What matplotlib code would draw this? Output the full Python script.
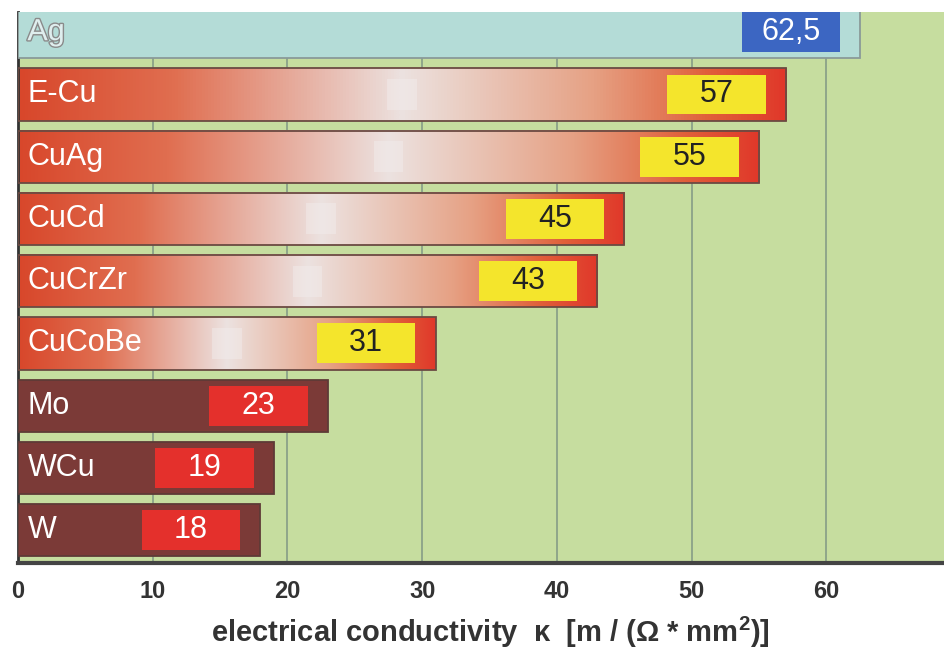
import numpy as np
import matplotlib.pyplot as plt
from matplotlib.colors import LinearSegmentedColormap
from matplotlib.patches import Rectangle
import matplotlib.patheffects as pe

plt.rcParams['font.family'] = ['Liberation Sans', 'DejaVu Sans']

# data (bottom to top)
materials = ['W', 'WCu', 'Mo', 'CuCoBe', 'CuCrZr', 'CuCd', 'CuAg', 'E-Cu', 'Ag']
values = [18, 19, 23, 31, 43, 45, 55, 57, 62.5]
value_labels = ['18', '19', '23', '31', '43', '45', '55', '57', '62,5']
kind = ['dark', 'dark', 'dark', 'grad', 'grad', 'grad', 'grad', 'grad', 'silver']
ticks = [0, 10, 20, 30, 40, 50, 60]

green = '#c6dd9f'
grad_cmap = LinearSegmentedColormap.from_list('cu', [
    (0.0, '#d8472b'), (0.2, '#e06e50'), (0.5, '#ece2e0'),
    (0.75, '#e6a184'), (0.9, '#e0603a'), (1.0, '#e0382a')])

fig = plt.figure(figsize=(9.45, 6.48), dpi=100)
ax = fig.add_axes([0.019, 0.131, 0.981, 0.85])
ax.set_facecolor(green)
ax.set_xlim(0, 68.8)
ax.set_ylim(-0.53, 8.32)

for t in ticks[1:]:
    ax.axvline(t, color='#8fa68a', lw=1.4, zorder=0)

h = 0.84
grad = np.linspace(0, 1, 256).reshape(1, -1)
for i, (m, v, lab, k) in enumerate(zip(materials, values, value_labels, kind)):
    y0 = i - h / 2
    if k == 'grad':
        ax.imshow(grad, cmap=grad_cmap, extent=(0, v, y0, y0 + h),
                  aspect='auto', zorder=2, interpolation='bilinear')
        # small light patch in the middle of the bar
        ax.add_patch(Rectangle((v / 2 - 1.1, i - 0.25), 2.2, 0.5,
                               facecolor='#f2eeee', edgecolor='none',
                               alpha=0.45, zorder=2.5))
        ax.add_patch(Rectangle((0, y0), v, h, facecolor='none',
                               edgecolor='#6b4a42', lw=1.3, zorder=3))
        box_fc, txt_c = '#f4e52c', '#222222'
    elif k == 'dark':
        ax.add_patch(Rectangle((0, y0), v, h, facecolor='#7b3a37',
                               edgecolor='#5e3a36', lw=1.3, zorder=3))
        box_fc, txt_c = '#e4302c', 'white'
    else:
        ax.add_patch(Rectangle((0, y0), v, h, facecolor='#b4dcd7',
                               edgecolor='#8a9a98', lw=1.3, zorder=3))
        box_fc, txt_c = '#3c66c2', 'white'

    # value box
    ax.add_patch(Rectangle((v - 1.5 - 7.3, i - 0.32), 7.3, 0.64,
                           facecolor=box_fc, edgecolor='none', zorder=4))
    ax.text(v - 1.5 - 3.65, i, lab, ha='center', va='center',
            fontsize=22, color=txt_c, zorder=5)

    # material label
    if k == 'silver':
        ax.text(0.7, i, m, ha='left', va='center', fontsize=22,
                color='#dfeeee', zorder=5,
                path_effects=[pe.withStroke(linewidth=2, foreground='#8a8a8a')])
    else:
        ax.text(0.7, i, m, ha='left', va='center', fontsize=22,
                color='white', zorder=5)

for s in ['top', 'right']:
    ax.spines[s].set_visible(False)
ax.spines['left'].set_color('#333333')
ax.spines['left'].set_linewidth(2)
ax.spines['bottom'].set_color('#444444')
ax.spines['bottom'].set_linewidth(3)

ax.set_yticks([])
ax.set_xticks(ticks)
ax.tick_params(axis='x', length=0, pad=12, labelsize=17,
               labelcolor='#333333')
for tl in ax.get_xticklabels():
    tl.set_fontweight('bold')
ax.set_xlabel('electrical conductivity  κ  [m / (Ω * mm$^\\mathregular{2}$)]',
              fontsize=21, fontweight='bold', color='#333333', va='center')
ax.xaxis.set_label_coords(0.51, -0.125)

fig.savefig('out.png', dpi=100)
